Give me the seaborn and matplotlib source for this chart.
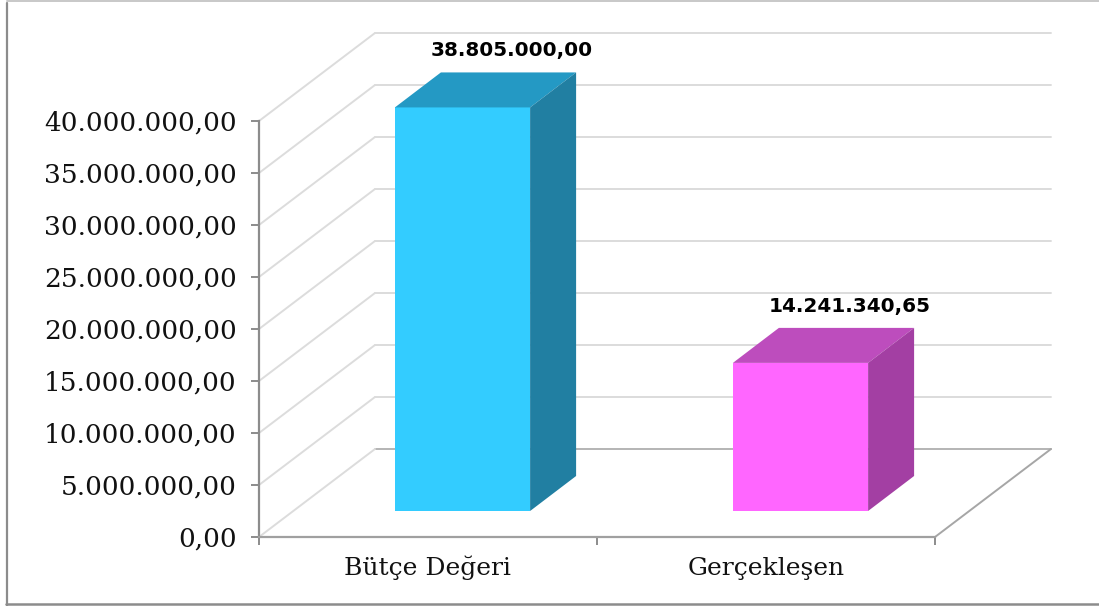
import matplotlib
matplotlib.use("Agg")
import matplotlib.pyplot as plt
from matplotlib.lines import Line2D
from matplotlib.patches import Polygon
from matplotlib.transforms import Affine2D
import pandas as pd
import seaborn as sns

# -------------------------------
# Data
# -------------------------------
categories = ["Bütçe Değeri", "Gerçekleşen"]
values = [38805000.00, 14241340.65]
value_labels = ["38.805.000,00", "14.241.340,65"]
y_ticks = [0, 5000000, 10000000, 15000000, 20000000, 25000000, 30000000, 35000000, 40000000]
y_tick_labels = ["0,00", "5.000.000,00", "10.000.000,00", "15.000.000,00", "20.000.000,00",
                 "25.000.000,00", "30.000.000,00", "35.000.000,00", "40.000.000,00"]

front_colors = ["#33CCFF", "#FF66FF"]
top_colors = ["#2499C4", "#BD4DBD"]
side_colors = ["#217FA2", "#A33FA3"]

# -------------------------------
# Pseudo 3D depth, in pixels
# -------------------------------
WIDTH, HEIGHT = 1099, 606
FLOOR_DX, FLOOR_DY = 116, 88
BAR_DX, BAR_DY = 34.5, 26
DEPTH_DX, DEPTH_DY = 46, 35

sns.set_theme(style="white")

fig = plt.figure(figsize=(WIDTH / 100, HEIGHT / 100), dpi=100)
ax = fig.add_axes([259 / WIDTH, 1 - 537 / HEIGHT, (935 - 259) / WIDTH, (537 - 121) / HEIGHT])


def shifted(dx, dy):
    return ax.transData + Affine2D().translate(dx, dy)


df = pd.DataFrame({"category": categories, "value": values})
sns.barplot(data=df, x="category", y="value", hue="category", palette=front_colors,
            legend=False, width=0.4, saturation=1, linewidth=0, ax=ax, zorder=4)

ax.set_xlim(-0.5, 1.5)
ax.set_ylim(0, 40000000)
ax.set_xlabel("")
ax.set_ylabel("")

# walls and floor
for tick in y_ticks:
    grid_color = "#B4B4B4" if tick == 0 else "#DCDCDC"
    ax.plot([-0.5, 1.5], [tick, tick], color=grid_color, lw=1.4, clip_on=False, zorder=1,
            transform=shifted(FLOOR_DX, FLOOR_DY))
    # diagonal side wall line
    start = ax.transData.transform((-0.5, tick))
    ax.add_line(Line2D([start[0], start[0] + FLOOR_DX], [start[1], start[1] + FLOOR_DY],
                       color="#DCDCDC", lw=1.4, clip_on=False, zorder=1, transform=None))

corner = ax.transData.transform((1.5, 0))
ax.add_line(Line2D([corner[0], corner[0] + FLOOR_DX], [corner[1], corner[1] + FLOOR_DY],
                   color="#A6A6A6", lw=1.4, clip_on=False, zorder=1, transform=None))

# bars: front face comes from seaborn, top and side faces follow it
for patch, label, top_c, side_c in zip(ax.patches, value_labels, top_colors, side_colors):
    patch.set_transform(shifted(BAR_DX, BAR_DY))
    patch.set_clip_on(False)
    (x0, y0), (x1, y1) = ax.transData.transform(
        [(patch.get_x(), 0), (patch.get_x() + patch.get_width(), patch.get_height())])
    x0, x1 = x0 + BAR_DX, x1 + BAR_DX
    y0, y1 = y0 + BAR_DY, y1 + BAR_DY
    fig.add_artist(Polygon([(x0, y1), (x1, y1), (x1 + DEPTH_DX, y1 + DEPTH_DY), (x0 + DEPTH_DX, y1 + DEPTH_DY)],
                           closed=True, fc=top_c, ec="none", transform=None, zorder=5))
    fig.add_artist(Polygon([(x1, y0), (x1 + DEPTH_DX, y0 + DEPTH_DY), (x1 + DEPTH_DX, y1 + DEPTH_DY), (x1, y1)],
                           closed=True, fc=side_c, ec="none", transform=None, zorder=5))
    fig.text(((x0 + x1) / 2 + 49.5) / WIDTH, (y1 + DEPTH_DY + 21.5) / HEIGHT, label, ha="center", va="center",
             fontsize=14.4, fontweight="bold", family="DejaVu Sans", color="black", zorder=6)

# axes
ax.set_xticks([-0.5, 0.5, 1.5])
ax.set_xticklabels(["", "", ""])
ax.set_yticks(y_ticks)
ax.set_yticklabels(y_tick_labels, family="DejaVu Serif", fontsize=19, color="#111111")
ax.tick_params(axis="both", length=6, width=1.4, color="#8C8C8C", direction="out", left=True, bottom=True)
ax.tick_params(axis="y", pad=10)
for i, name in enumerate(categories):
    ax.annotate(name, (i, 0), xytext=(0, -31), textcoords="offset pixels", ha="center", va="center",
                family="DejaVu Serif", fontsize=18, color="#111111", annotation_clip=False)

sns.despine(ax=ax)
ax.spines["left"].set(color="#8C8C8C", linewidth=1.6)
ax.spines["bottom"].set(color="#A0A0A0", linewidth=1.6)
ax.patch.set_alpha(0)

# chart frame, no line on the right side
fig.add_artist(Line2D([6.5, 6.5], [0, HEIGHT - 3], color="#8C8C8C", lw=1.6, transform=None))
fig.add_artist(Line2D([7, WIDTH], [HEIGHT - 1, HEIGHT - 1], color="#C8C8C8", lw=1.4, transform=None))
fig.add_artist(Line2D([6, WIDTH], [2, 2], color="#8C8C8C", lw=1.8, transform=None))

fig.savefig("out.png", dpi=100, facecolor="white")
